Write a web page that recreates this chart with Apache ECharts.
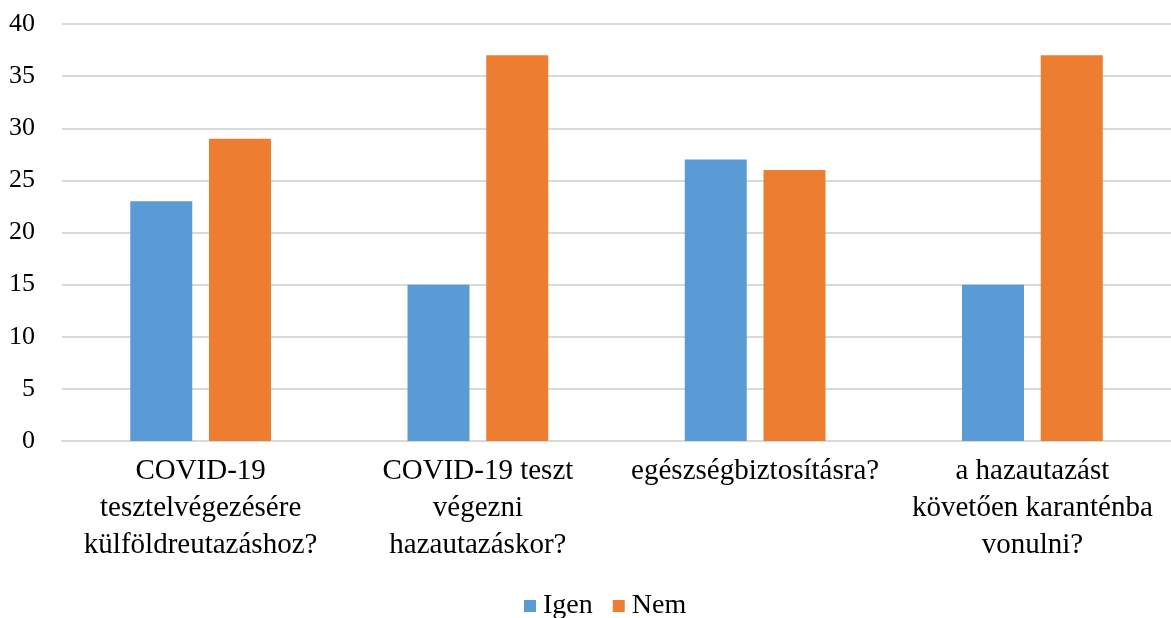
<!DOCTYPE html>
<html><head><meta charset="utf-8">
<script src="https://cdn.jsdelivr.net/npm/echarts@6/dist/echarts.min.js"></script>
<style>html,body{margin:0;padding:0;background:#fff}#c{width:1171px;height:618px}</style>
</head><body><div id="c"></div>
<script>
const categories = [
  "COVID-19\ntesztelvégezésére\nkülföldreutazáshoz?",
  "COVID-19 teszt\nvégezni\nhazautazáskor?",
  "egészségbiztosításra?",
  "a hazautazást\nkövetően karanténba\nvonulni?"
];
const seriesNames = ["Igen", "Nem"];
const igen = [23, 15, 27, 15];
const nem = [29, 37, 26, 37];
const yTicks = { min: 0, max: 40, interval: 5 };

const font = "'Liberation Serif', 'Times New Roman', serif";
const chart = echarts.init(document.getElementById('c'), null, { renderer: 'canvas' });
chart.setOption({
  animation: false,
  textStyle: { fontFamily: font },
  grid: { left: 62, right: 0, top: 24, bottom: 177, containLabel: false },
  legend: {
    data: seriesNames, bottom: -7, left: 519, itemWidth: 12, itemHeight: 12, itemGap: 20,
    icon: 'rect',
    textStyle: { fontFamily: font, fontSize: 28, color: '#000', padding: [0, 0, 0, 2] }
  },
  xAxis: {
    type: 'category', data: categories,
    axisLine: { lineStyle: { color: '#d9d9d9', width: 2 } },
    axisTick: { show: false },
    axisLabel: { interval: 0, fontFamily: font, fontSize: 29, color: '#000', lineHeight: 37, margin: 12 }
  },
  yAxis: {
    type: 'value', min: yTicks.min, max: yTicks.max, interval: yTicks.interval,
    axisLine: { show: false }, axisTick: { show: false },
    splitLine: { lineStyle: { color: '#d9d9d9', width: 2 } },
    axisLabel: { fontFamily: font, fontSize: 26, color: '#000', margin: 27 }
  },
  series: [
    { name: seriesNames[0], type: 'bar', data: igen, itemStyle: { color: '#5B9BD5' }, barWidth: 62, barGap: '27%' },
    { name: seriesNames[1], type: 'bar', data: nem, itemStyle: { color: '#ED7D31' }, barWidth: 62 }
  ]
});
</script></body></html>
